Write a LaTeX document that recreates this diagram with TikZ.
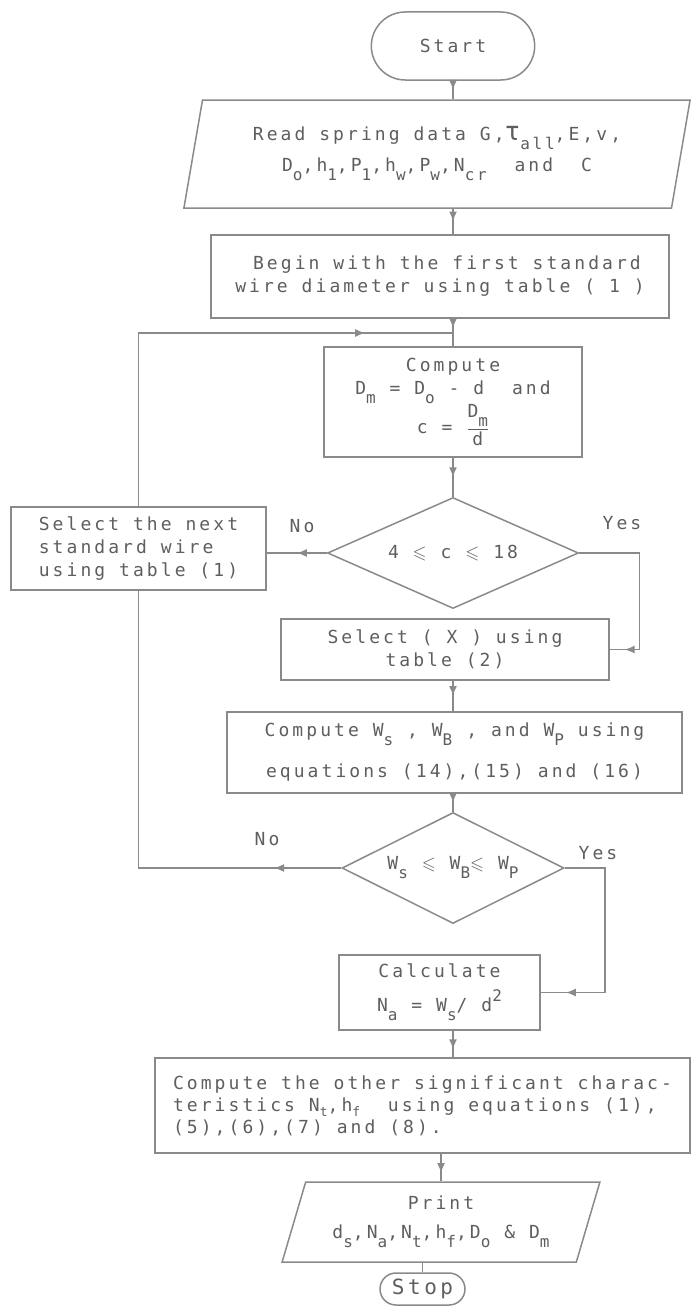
\documentclass[tikz,border=0pt]{standalone}
\usepackage{amsmath, amssymb}
\usepackage{fontspec}
\usepackage{tikz}
\usetikzlibrary{positioning, arrows.meta, calc, shapes.geometric, shapes.misc, decorations.markings}
\newfontfamily\dotfont[LetterSpace=17]{DejaVu Sans Mono}
\definecolor{inkgray}{HTML}{5E5E5E}
\definecolor{linegray}{HTML}{8A8A8A}
\newcommand{\lowr}[1]{\raisebox{-0.5em}{\fontsize{16}{16}\selectfont #1}}
\newcommand{\lowb}[1]{\raisebox{-0.3em}{\fontsize{13}{13}\selectfont #1}}
\newcommand{\upr}[1]{\raisebox{0.55em}{\fontsize{16}{16}\selectfont #1}}
\tikzset{
  box/.style={draw=linegray, line width=1.5pt, rectangle, inner sep=2pt},
  io/.style={draw=linegray, line width=1.5pt, trapezium, trapezium stretches=true,
    trapezium left angle=75, trapezium right angle=105, inner sep=0pt},
  term/.style={draw=linegray, line width=1.5pt, rounded rectangle},
  test/.style={draw=linegray, line width=1.5pt, diamond, aspect=2, inner sep=0pt},
  flow/.style={color=linegray, line width=1.5pt},
  arr/.style={postaction={decorate}, decoration={markings,
    mark=at position #1 with {\arrow{Latex[length=10pt, width=8pt]}}}},
  arr/.default=0.5,
  lbl/.style={text=inkgray}
}

\begin{document}
\begin{tikzpicture}[x=1pt, y=-1pt, every node/.style={font=\dotfont\fontsize{18}{23}\selectfont, text=inkgray}]
        \useasboundingbox (0,0) rectangle (692,1306);

        % Input and first wire
        \node[term, minimum width=170pt, minimum height=68pt] (start) at (453,46) {Start};
        \node[io, minimum width=509pt, minimum height=108pt, align=center] (read) at (437,154)
          {Read spring data G,{\fontsize{26}{26}\selectfont τ}\lowr{all},E,v,\\[8pt] D\lowr{o},h\lowr{1},P\lowr{1},h\lowr{w},P\lowr{w},N\lowr{cr}\ \ and\ \ C};
        \node[box, minimum width=458pt, minimum height=83pt, align=center] (begin) at (440,276.5)
          {\ Begin with the first standard\\ wire diameter using table ( 1 )};
        \coordinate (jn) at (453,333);
        \node[box, minimum width=258pt, minimum height=110pt, align=center] (compute) at (453,402)
          {Compute\\ D\lowr{m} = D\lowr{o} - d \ and\\ c = $\dfrac{\text{D\lowr{m}}}{\text{d}}$};
        \node[test, minimum width=251pt, minimum height=111pt] (dia1) at (453,553) {4 $\leqslant$ c $\leqslant$ 18};
        \node[box, minimum width=255pt, minimum height=83pt, align=left] (selnext) at (138.5,548.5)
          {Select the next\\ standard wire\\ using table (1)};
        \node[lbl] (no1) at (302,526) {No};
        \node[lbl] (yes1) at (622,523) {Yes};

        % Load checks
        \node[box, minimum width=328pt, minimum height=61pt, align=center] (selx) at (445,649.5)
          {Select ( X ) using\\ table (2)};
        \node[box, minimum width=455pt, minimum height=81pt, align=center] (compw) at (454.5,752.5)
          {Compute W\lowr{s} , W\lowr{B} , and W\lowr{P} using\\[18pt] equations (14),(15) and (16)};
        \node[test, minimum width=222pt, minimum height=111pt] (dia2) at (453,868)
          {W\lowr{s} $\leqslant$ W\lowr{B}$\leqslant$ W\lowr{P}};
        \node[lbl] (no2) at (267,839) {No};
        \node[lbl] (yes2) at (598,853) {Yes};

        % Results
        \node[box, minimum width=201pt, minimum height=75pt, align=center] (calc) at (439.5,992.5)
          {Calculate\\[11pt] N\lowr{a} = W\lowr{s}/ d\upr{2}};
        \node[box, minimum width=535pt, minimum height=95pt, align=left, font=\dotfont\fontsize{18}{22}\selectfont] (big) at (422.5,1105.5)
          {Compute the other significant charac-\\ teristics N\lowb{t},h\lowb{f}\ \ using equations (1),\\ (5),(6),(7) and (8).};
        \node[io, trapezium left angle=70, trapezium right angle=110, minimum width=318pt, minimum height=80pt, align=center] (print) at (441,1222)
          {Print\\[6pt] d\lowr{s},N\lowr{a},N\lowr{t},h\lowr{f},D\lowr{o} \& D\lowr{m}};
        \node[term, minimum width=87pt, minimum height=32pt, inner sep=1pt, font=\dotfont\fontsize{21}{21}\selectfont] (stop) at (422.5,1289) {Stop};

        % Connectors
        \draw[flow, arr] (start.south) -- (read.north -| start.south);
        \draw[flow, arr] (read.south -| start.south) -- (begin.north -| start.south);
        \draw[flow, arr=0.35] (begin.south -| jn) -- (jn) -- (compute.north);
        \draw[flow, arr] (compute.south) -- (dia1.north);
        \draw[flow, arr] (dia1.west) -- (dia1.west -| selnext.east);
        \draw[flow, arr=0.92] (dia1.east) -- ++(60,0) |- (selx.east);
        \draw[flow, arr] (selx.south -| jn) -- (compw.north -| jn);
        \draw[flow, arr] (compw.south -| jn) -- (dia2.north);
        \draw[flow, arr=0.14] (dia2.west) -| (selnext.south);
        \draw[flow, arr=0.82] (selnext.north) |- (jn);
        \draw[flow, arr=0.89] (dia2.east) -- ++(40,0) |- (calc.east);
        \draw[flow, arr=0.7] (calc.south -| jn) -- (big.north -| jn);
        \draw[flow, arr=0.7] (big.south -| print.north) -- (print.north);
        \draw[flow] (print.south -| stop.north) -- (stop.north);
      \end{tikzpicture}
\end{document}
